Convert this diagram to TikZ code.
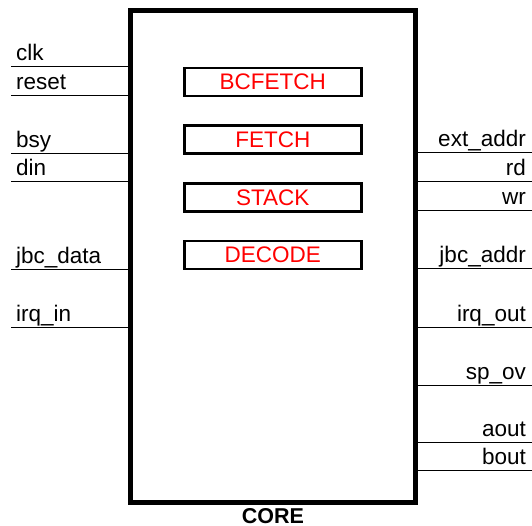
\documentclass[tikz,border=0pt]{standalone}
\usepackage{fontspec}
\setmainfont{Liberation Sans}
\usetikzlibrary{positioning}

\begin{document}
\begin{tikzpicture}[
  x=1pt,
  y=-1pt,
  every node/.style={font=\fontsize{22.5}{26}\selectfont},
  core/.style={draw,line width=5pt,minimum width=285pt,minimum height=491pt,inner sep=0pt},
  unit/.style={draw,line width=2.5pt,minimum width=177pt,minimum height=28pt,inner sep=0pt,text=red},
  wire/.style={draw,line width=1pt},
  pinleft/.style={anchor=base west,inner sep=0pt},
  pinright/.style={anchor=base east,inner sep=0pt}
]
  \useasboundingbox (0,0) rectangle (532,526);

  % The core block and its name below it.
  \node[core] (core) at (272.5,256.5) {};
  \node[font=\bfseries\fontsize{21.5}{25}\selectfont,anchor=base] (corename) at (273,523) {CORE};

  % Sub-units stacked inside the core.
  \node[unit] (bcfetch) at (272.75,82) {BCFETCH};
  \node[unit,below=27.2pt of bcfetch] (fetch) {FETCH};
  \node[unit,below=27.2pt of fetch] (stack) {STACK};
  \node[unit,below=27.2pt of stack] (decode) {DECODE};

  % Input pins on the left side.
  \foreach \y/\name/\txt in {67/clk/clk,96/reset/reset,154/bsy/bsy,182/din/din,
                             270/jbcdata/jbc\_data,327/irqin/irq\_in} {
    \coordinate (\name) at (11,\y);
    \draw[wire] (\name) -- (\name -| core.west);
    \node[pinleft] (\name-lbl) at ([shift={(5,-6)}]\name) {\txt};
  }

  % Output pins on the right side.
  \foreach \y/\name/\txt in {153/extaddr/ext\_addr,182/rd/rd,211/wr/wr,269/jbcaddr/jbc\_addr,
                             327/irqout/irq\_out,385/spov/sp\_ov,442/aout/aout,470/bout/bout} {
    \coordinate (\name) at (532,\y);
    \draw[wire] (\name -| core.east) -- (\name);
    \node[pinright] (\name-lbl) at ([shift={(-6,-6)}]\name) {\txt};
  }
\end{tikzpicture}
\end{document}
